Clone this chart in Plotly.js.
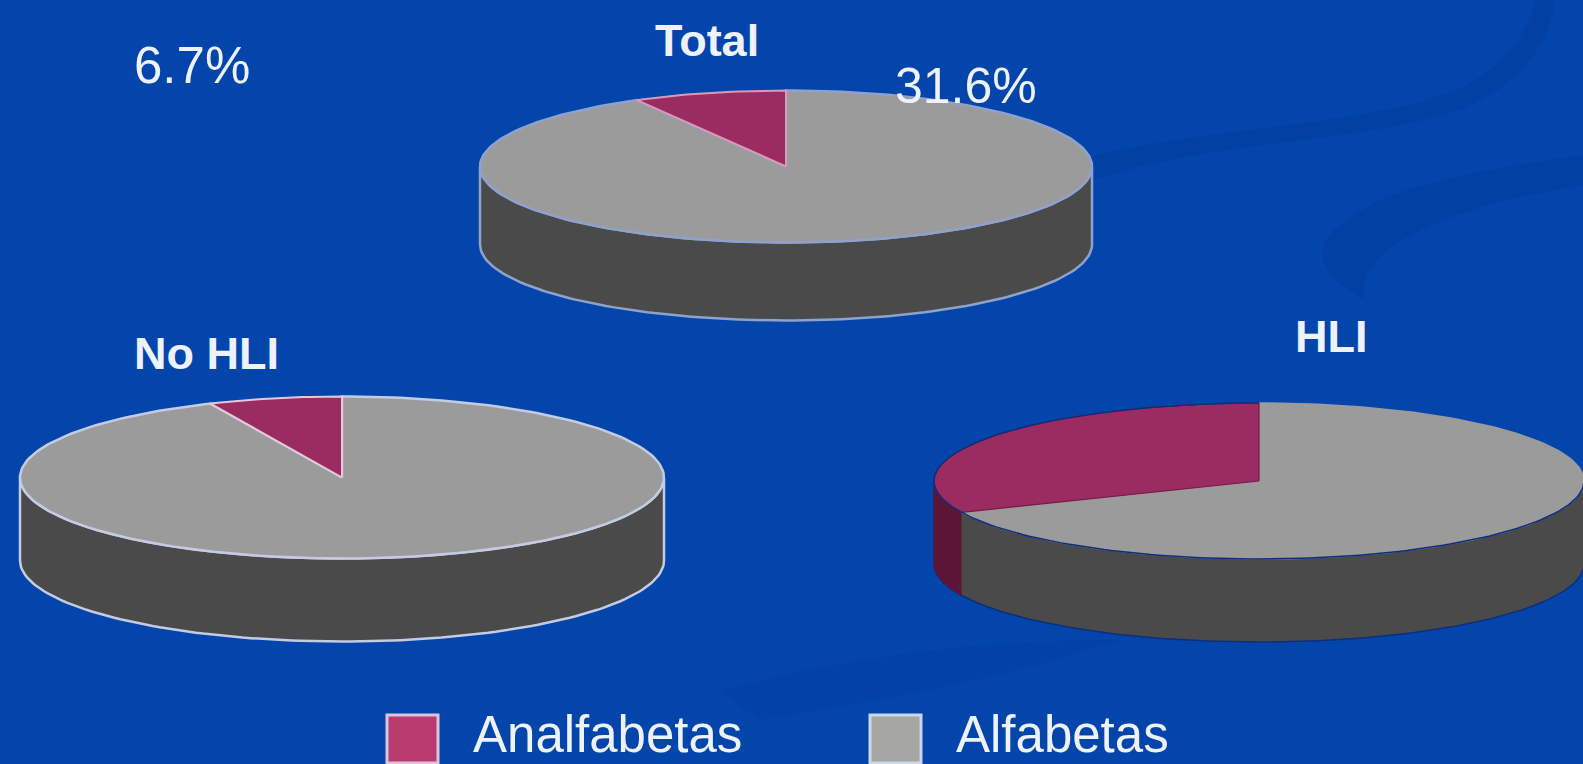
<!DOCTYPE html>
<html><head><meta charset="utf-8">
<script src="https://cdn.plot.ly/plotly-3.0.1.min.js"></script>
<style>html,body{margin:0;padding:0;background:#0445ab;overflow:hidden}</style>
</head><body><div id="chart" style="width:1583px;height:764px"></div>
<script>
// Data
var pieNames = ["Total", "No HLI", "HLI"];
var illiterate = [8.1, 6.7, 31.6];
var categories = ["Analfabetas", "Alfabetas"];
var freeLabels = ["6.7%", "31.6%"];

var bg = "#0445ab";
var colorIll = "#9b2c62", colorIllSide = "#5c1536", colorLit = "#9b9b9b", colorLitSide = "#4a4a4a";

// Layout of the three discs, in reference pixels
var geo = [
  {cx:786, cy:166.5, a:306, b:76, h:78, edge:"#8ea2cc", w:2.5, sliceEdge:"#d89ab8"},
  {cx:342, cy:477.5, a:322, b:81, h:83, edge:"#c4cce4", w:2.5, sliceEdge:"#e6c8d8"},
  {cx:1259, cy:481, a:325, b:78, h:83, edge:"#0c2f7c", w:1.5, sliceEdge:"#7a1a48"}
];

function arc(g, from, to, dy) {
  var xs=[], ys=[], n=Math.max(2,Math.ceil(Math.abs(to-from)/1.5));
  for (var i=0;i<=n;i++){
    var t=(from+(to-from)*i/n)*Math.PI/180;
    xs.push(g.cx+g.a*Math.sin(t));
    ys.push(g.cy-g.b*Math.cos(t)+dy);
  }
  return {x:xs,y:ys};
}
function poly(x,y,fill,line,w,name){
  return {type:"scatter",mode:"lines",x:x,y:y,fill:"toself",fillcolor:fill,
    line:{color:line,width:w},hoverinfo:"skip",showlegend:false,name:name};
}
var traces=[];
geo.forEach(function(g,i){
  var ang=illiterate[i]*3.6, start=360-ang;
  var top=arc(g,90,270,0), bot=arc(g,270,90,g.h);
  traces.push(poly(top.x.concat(bot.x,[top.x[0]]),top.y.concat(bot.y,[top.y[0]]),colorLitSide,g.edge,g.w,"wall"));
  if (start<270){
    var t2=arc(g,start,270,0), b2=arc(g,270,start,g.h);
    traces.push(poly(t2.x.concat(b2.x),t2.y.concat(b2.y),colorIllSide,colorIllSide,1,"wall"));
  }
  var gr=arc(g,0,start,0);
  traces.push(poly([g.cx].concat(gr.x,[g.cx]),[g.cy].concat(gr.y,[g.cy]),colorLit,i==2?colorLit:g.edge,g.w,categories[1]));
  var re=arc(g,start,360,0);
  traces.push(poly([g.cx].concat(re.x,[g.cx]),[g.cy].concat(re.y,[g.cy]),colorIll,g.sliceEdge,i==2?1.2:2,categories[0]));
  if (i==2){
    var rim=arc(g,90,360,0);
    traces.push({type:"scatter",mode:"lines",x:rim.x,y:rim.y,line:{color:g.edge,width:1.5},hoverinfo:"skip",showlegend:false,name:"rim"});
  }
});

var textColor="#edf2fc";
var ann=function(x,y,t,s,b){return {x:x,y:y,xref:"x",yref:"y",text:b?"<b>"+t+"</b>":t,showarrow:false,
  font:{family:"Liberation Sans, Arial, sans-serif",size:s,color:textColor},xanchor:"left",yanchor:"middle"};};
var annotations=[
  ann(653,40,pieNames[0],45,true),
  ann(132,353,pieNames[1],45,true),
  ann(1293,336,pieNames[2],45,true),
  ann(132,65,freeLabels[0],51,false),
  ann(893,86,freeLabels[1],50,false),
  ann(471,734,categories[0],51,false),
  ann(954,734,categories[1],51,false)
];
var swoosh="rgba(2,56,150,0.32)";
var shapes=[
  {type:"path",layer:"below",xref:"x",yref:"y",line:{width:0},fillcolor:swoosh,
   path:"M1095,155 C1250,120 1420,125 1490,70 C1515,50 1530,25 1535,0 L1555,0 C1550,45 1520,85 1460,110 C1350,145 1210,140 1095,180 Z"},
  {type:"path",layer:"below",xref:"x",yref:"y",line:{width:0},fillcolor:swoosh,
   path:"M1583,155 C1480,170 1370,185 1325,240 C1315,265 1335,285 1365,300 C1355,265 1400,215 1583,185 Z"},
  {type:"path",layer:"below",xref:"x",yref:"y",line:{width:0},fillcolor:"rgba(2,56,150,0.22)",
   path:"M720,690 C880,650 1000,640 1120,640 C1000,680 880,700 760,720 Z"},
  {type:"rect",xref:"x",yref:"y",x0:387,x1:438,y0:715,y1:763,fillcolor:"#b83c70",line:{color:"#dcc4dc",width:3}},
  {type:"rect",xref:"x",yref:"y",x0:870,x1:921,y0:715,y1:763,fillcolor:"#a6a6a2",line:{color:"#ccd6ec",width:3}}
];
Plotly.newPlot("chart",traces,{
  width:1583,height:764,margin:{l:0,r:0,t:0,b:0},
  paper_bgcolor:bg,plot_bgcolor:bg,showlegend:false,
  xaxis:{range:[0,1583],visible:false,fixedrange:true},
  yaxis:{range:[764,0],visible:false,fixedrange:true},
  annotations:annotations,shapes:shapes
},{displayModeBar:false,staticPlot:true});
</script></body></html>
